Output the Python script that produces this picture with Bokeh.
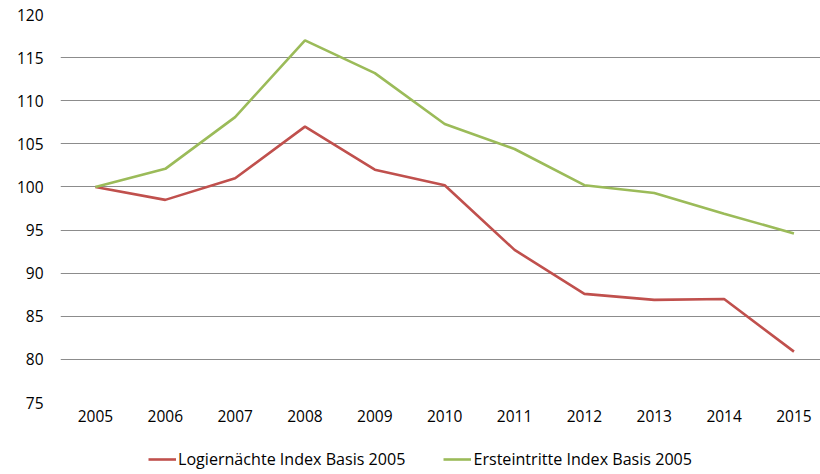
from bokeh.plotting import figure
from bokeh.layouts import column
from bokeh.models import FixedTicker, Legend, LegendItem, Range1d
from bokeh.embed import file_html
from bokeh.resources import INLINE

years = [2005, 2006, 2007, 2008, 2009, 2010, 2011, 2012, 2013, 2014, 2015]
logiernaechte = [100, 98.5, 101.0, 107.0, 102.0, 100.2, 92.7, 87.6, 86.9, 87.0, 80.9]
ersteintritte = [100, 102.1, 108.1, 117.0, 113.2, 107.3, 104.4, 100.2, 99.3, 96.9, 94.6]
y_ticks = [75, 80, 85, 90, 95, 100, 105, 110, 115, 120]
series_names = ["Logiernächte Index Basis 2005", "Ersteintritte Index Basis 2005"]
colors = ["#C0504D", "#9BBB59"]

FONT = "Open Sans"
FS = "15.5px"

p = figure(width=820, height=432, output_backend="svg", toolbar_location=None,
           x_range=Range1d(2004.5, 2015.38), y_range=Range1d(75, 120),
           min_border_left=60, min_border_right=0, min_border_top=14,
           min_border_bottom=30)
p.outline_line_color = None
p.xgrid.grid_line_color = None
p.ygrid.grid_line_color = "#8c8c8c"
p.ygrid.grid_line_width = 1

p.yaxis.ticker = FixedTicker(ticks=y_ticks)
p.xaxis.ticker = FixedTicker(ticks=years)
for ax in (p.xaxis[0], p.yaxis[0]):
    ax.axis_line_color = None
    ax.major_tick_line_color = None
    ax.minor_tick_line_color = None
    ax.major_label_text_font = FONT
    ax.major_label_text_font_size = FS
    ax.major_label_text_color = "#000000"
p.yaxis.major_label_standoff = 11
p.xaxis.major_label_standoff = 1

p.line(years, logiernaechte, line_color=colors[0], line_width=2.6)
p.line(years, ersteintritte, line_color=colors[1], line_width=2.6)

# legend strip below the chart (swatch renderers sit outside the visible range)
lg = figure(width=820, height=42, output_backend="svg", toolbar_location=None,
            x_axis_type=None, y_axis_type=None,
            x_range=Range1d(0, 1), y_range=Range1d(0, 1),
            min_border_left=0, min_border_right=0, min_border_top=0,
            min_border_bottom=0)
lg.outline_line_color = None
lg.xgrid.grid_line_color = None
lg.ygrid.grid_line_color = None
lr = [lg.line([-5, -4], [-5, -4], line_color=c, line_width=2.6) for c in colors]
legend = Legend(items=[LegendItem(label=n, renderers=[r]) for n, r in zip(series_names, lr)],
                orientation="horizontal", location=(88, 4),
                glyph_width=28, glyph_height=14, label_standoff=2, spacing=38,
                label_text_font=FONT, label_text_font_size="16.1px",
                label_text_color="#000000", border_line_color=None,
                background_fill_alpha=0, padding=0, margin=0)
lg.add_layout(legend, "center")

open("out.html", "w").write(file_html(column(p, lg, spacing=0), INLINE))
